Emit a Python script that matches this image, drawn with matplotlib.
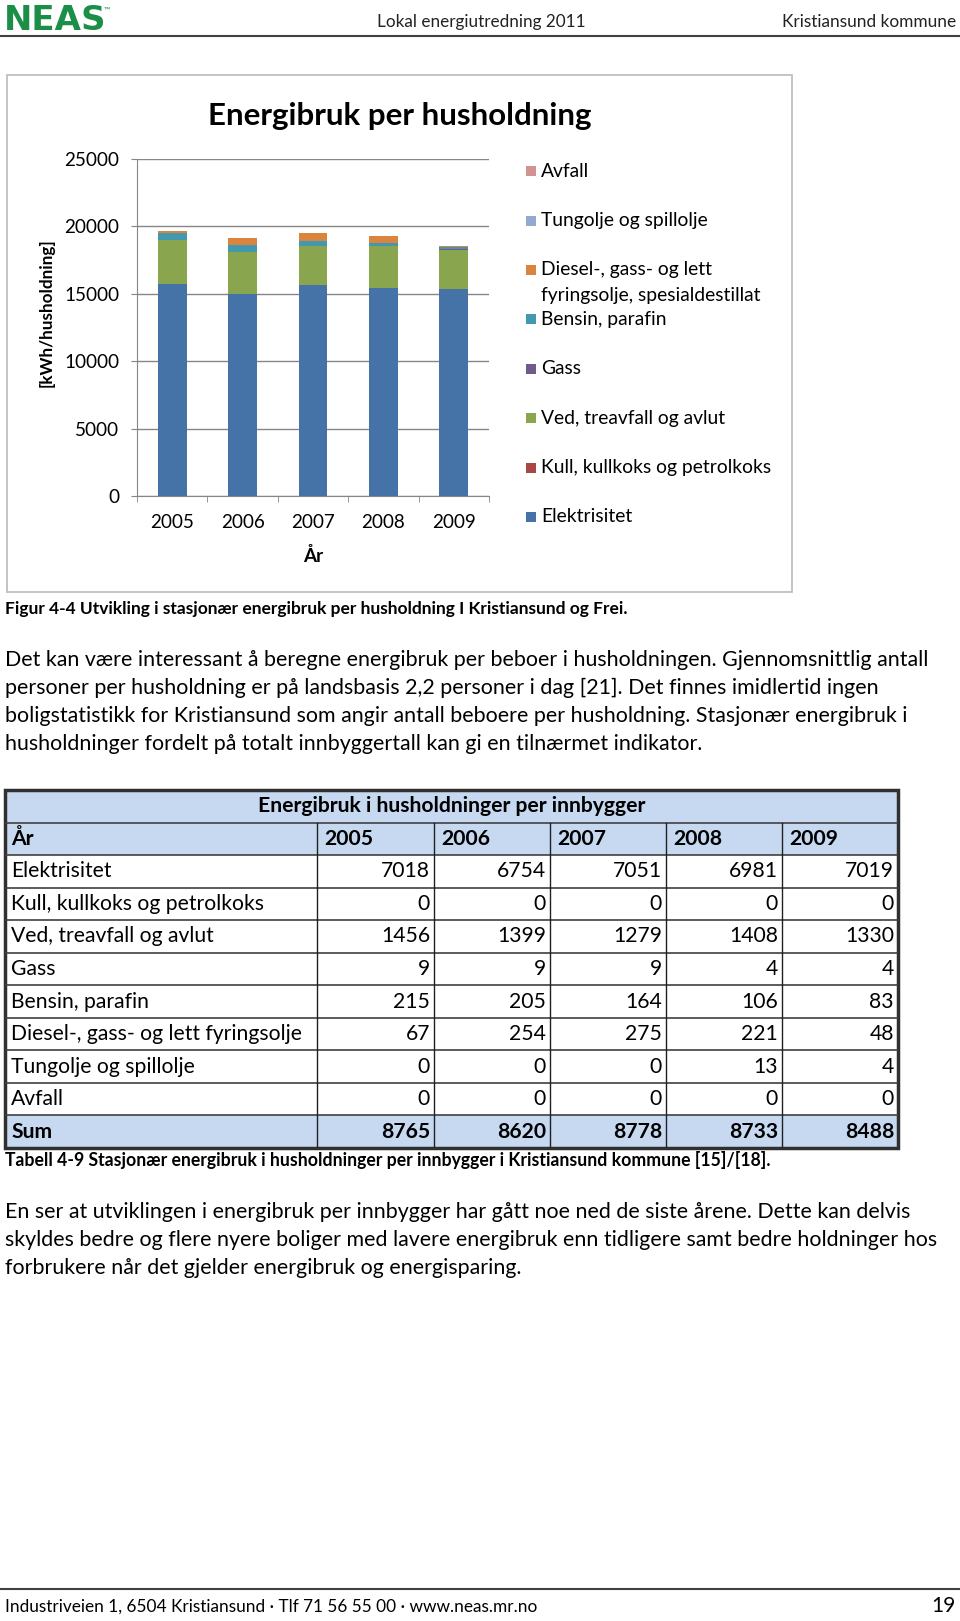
import matplotlib
matplotlib.use("Agg")
import matplotlib.pyplot as plt
from matplotlib.patches import Rectangle
import numpy as np

plt.rcParams["font.family"] = ["Lato", "DejaVu Sans"]

years = ["2005", "2006", "2007", "2008", "2009"]

# kWh per husholdning, lest av stolpediagrammet
elektrisitet = [15740, 15000, 15670, 15420, 15370]
kull = [0, 0, 0, 0, 0]
ved = [3265, 3110, 2840, 3110, 2910]
gass = [20, 20, 20, 9, 9]
bensin = [480, 455, 365, 235, 180]
diesel = [150, 565, 610, 490, 105]
tungolje = [0, 0, 0, 29, 9]
avfall = [0, 0, 0, 0, 0]

series = [elektrisitet, kull, ved, gass, bensin, diesel, tungolje, avfall]
series_names = ["Elektrisitet", "Kull, kullkoks og petrolkoks", "Ved, treavfall og avlut",
                "Gass", "Bensin, parafin",
                "Diesel-, gass- og lett\nfyringsolje, spesialdestillat",
                "Tungolje og spillolje", "Avfall"]
series_colors = ["#4572A7", "#AA4643", "#89A54E", "#71588F",
                 "#4198AF", "#DB843D", "#93A9CF", "#D19392"]

# tabell: kWh per innbygger
table_rows = ["Elektrisitet", "Kull, kullkoks og petrolkoks", "Ved, treavfall og avlut", "Gass",
              "Bensin, parafin", "Diesel-, gass- og lett fyringsolje", "Tungolje og spillolje", "Avfall"]
table_values = [[7018, 6754, 7051, 6981, 7019],
                [0, 0, 0, 0, 0],
                [1456, 1399, 1279, 1408, 1330],
                [9, 9, 9, 4, 4],
                [215, 205, 164, 106, 83],
                [67, 254, 275, 221, 48],
                [0, 0, 0, 13, 4],
                [0, 0, 0, 0, 0]]
table_sum = [8765, 8620, 8778, 8733, 8488]

para1 = ["Det kan være interessant å beregne energibruk per beboer i husholdningen. Gjennomsnittlig antall",
         "personer per husholdning er på landsbasis 2,2 personer i dag [21]. Det finnes imidlertid ingen",
         "boligstatistikk for Kristiansund som angir antall beboere per husholdning. Stasjonær energibruk i",
         "husholdninger fordelt på totalt innbyggertall kan gi en tilnærmet indikator."]
para2 = ["En ser at utviklingen i energibruk per innbygger har gått noe ned de siste årene. Dette kan delvis",
         "skyldes bedre og flere nyere boliger med lavere energibruk enn tidligere samt bedre holdninger hos",
         "forbrukere når det gjelder energibruk og energisparing."]

W, H = 960, 1621
fig = plt.figure(figsize=(W / 100, H / 100), dpi=100)


def px(x, y):
    return x / W, 1 - y / H


def line(x0, x1, y, color="#404040", lw=1.5):
    fig.add_artist(plt.Line2D([x0 / W, x1 / W], [1 - y / H, 1 - y / H],
                              transform=fig.transFigure, color=color, lw=lw))


# topptekst
fig.text(*px(4, 20), "NEAS", fontsize=24.5, fontweight="bold", color="#1B8E47",
         va="center", family="DejaVu Sans")
fig.text(*px(104, 10), "™", fontsize=6, color="#1B8E47", va="center")
fig.text(*px(377, 22), "Lokal energiutredning 2011", fontsize=12.3, va="center", color="#222222")
fig.text(*px(956, 22), "Kristiansund kommune", fontsize=12.4, va="center", ha="right", color="#222222")
line(0, 960, 36)

# diagramramme
fig.add_artist(Rectangle(px(7, 592), 785 / W, 517 / H, transform=fig.transFigure,
                         fill=False, ec="#BFBFBF", lw=1.3))
fig.text(*px(400, 116), "Energibruk per husholdning", fontsize=22.5, fontweight="bold",
         ha="center", va="center")

ax = fig.add_axes([137 / W, 1 - 496 / H, 352 / W, 337 / H])
x = np.arange(len(years))
bottom = np.zeros(len(years))
for vals, color in zip(series, series_colors):
    ax.bar(x, vals, 0.41, bottom=bottom, color=color, zorder=3)
    bottom += np.array(vals)

ax.set_ylim(0, 25000)
ax.set_yticks(range(0, 25001, 5000))
ax.set_xlim(-0.5, 4.5)
ax.set_xticks(x, years)
ax.set_xticks(np.arange(-0.5, 5, 1), minor=True)
ax.yaxis.grid(True, color="#868686", lw=1)
ax.set_axisbelow(True)
for s in ["top", "right"]:
    ax.spines[s].set_visible(False)
for s in ["left", "bottom"]:
    ax.spines[s].set_color("#868686")
ax.tick_params(axis="y", length=4, color="#868686", labelsize=13.6, pad=9)
ax.tick_params(axis="x", which="major", length=0, labelsize=13.6, pad=13)
ax.tick_params(axis="x", which="minor", length=4.5, color="#868686")

fig.text(*px(313, 556), "År", fontsize=13.6, fontweight="bold", ha="center", va="center")
fig.text(*px(47, 313), "[kWh/husholdning]", fontsize=12.3, fontweight="bold",
         ha="center", va="center", rotation=90)

# forklaring
for i, (name, color) in enumerate(zip(series_names, series_colors)):
    yc = 517 - i * 49.4
    fig.add_artist(Rectangle(px(526, yc + 5), 10 / W, 10 / H, transform=fig.transFigure,
                             fc=color, ec="none"))
    for j, part in enumerate(name.split("\n")):
        fig.text(*px(541, yc + j * 25), part, fontsize=13.9, va="center")

fig.text(*px(5, 609), "Figur 4-4 Utvikling i stasjonær energibruk per husholdning I Kristiansund og Frei.",
         fontsize=12.5, fontweight="bold", va="center")

for i, t in enumerate(para1):
    fig.text(*px(5, 660 + i * 28), t, fontsize=15.4, va="center")

# tabell
tw = 893
ax_t = fig.add_axes([5 / W, 1 - 1148 / H, tw / W, 358 / H])
ax_t.set_xlim(0, tw)
ax_t.set_ylim(11, 0)
ax_t.axis("off")
col_edges = [0, 312, 429, 545, 661, 777, tw]
for r in [0, 1, 10]:
    ax_t.add_patch(Rectangle((0, r), tw, 1, fc="#C6D9F1", ec="none"))
for r in range(1, 11):
    ax_t.plot([0, tw], [r, r], color="#404040", lw=1.2)
for c in col_edges[1:-1]:
    ax_t.plot([c, c], [1, 11], color="#202020", lw=1)
ax_t.add_patch(Rectangle((0, 0), tw, 11, fill=False, ec="#303030", lw=2.5, clip_on=False))

fs = 15.2
ax_t.text(tw / 2, 0.5, "Energibruk i husholdninger per innbygger", fontsize=fs,
          fontweight="bold", ha="center", va="center")
ax_t.text(6, 1.5, "År", fontsize=fs, fontweight="bold", va="center")
for j, yr in enumerate(years):
    ax_t.text(col_edges[j + 1] + 7, 1.5, yr, fontsize=fs, fontweight="bold", va="center")
for i, (name, vals) in enumerate(zip(table_rows, table_values)):
    r = i + 2.5
    ax_t.text(6, r, name, fontsize=fs, va="center")
    for j, v in enumerate(vals):
        ax_t.text(col_edges[j + 2] - 4, r, str(v), fontsize=fs, va="center", ha="right")
ax_t.text(6, 10.5, "Sum", fontsize=fs, fontweight="bold", va="center")
for j, v in enumerate(table_sum):
    ax_t.text(col_edges[j + 2] - 4, 10.5, str(v), fontsize=fs, fontweight="bold",
              va="center", ha="right")

fig.text(*px(5, 1160), "Tabell 4-9 Stasjonær energibruk i husholdninger per innbygger i Kristiansund kommune [15]/[18].",
         fontsize=12.7, fontweight="bold", va="center")

for i, t in enumerate(para2):
    fig.text(*px(5, 1212 + i * 28), t, fontsize=15.4, va="center")

# bunntekst
line(0, 960, 1589)
fig.text(*px(5, 1607), "Industriveien 1, 6504 Kristiansund · Tlf 71 56 55 00 · www.neas.mr.no",
         fontsize=12.4, va="center")
fig.text(*px(956, 1606), "19", fontsize=15, va="center", ha="right")

fig.savefig("out.png", dpi=100)
